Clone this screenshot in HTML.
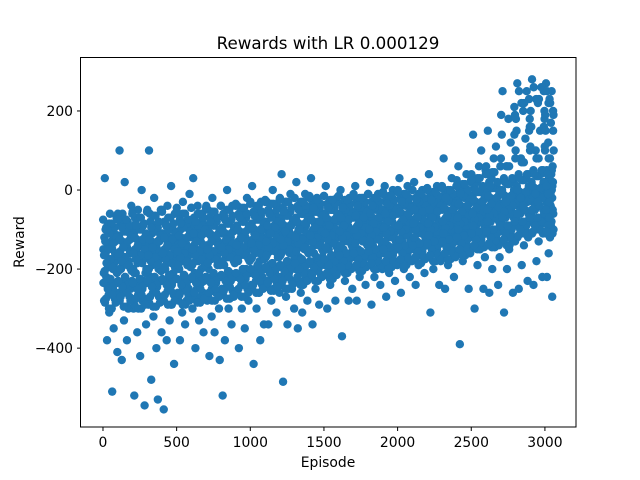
<!DOCTYPE html>
<html><head><meta charset="utf-8"><style>
html,body{margin:0;padding:0;background:#fff;}
svg{display:block;font-family:"DejaVu Sans","Liberation Sans",sans-serif;}
</style></head><body>
<svg id="chart" width="640" height="480" viewBox="0 0 640 480">
<rect width="640" height="480" fill="#fff"/>
<text x="328" y="49" font-size="16.7" text-anchor="middle" fill="#000">Rewards with LR 0.000129</text>
<g id="points"></g>
<rect x="80.5" y="57.5" width="495.5" height="369.5" fill="none" stroke="#000" stroke-width="1"/>
<g id="xticks"></g>
<g id="yticks"></g>
<text x="328" y="467" font-size="13.9" text-anchor="middle">Episode</text>
<text transform="translate(24,242) rotate(-90)" font-size="13.9" text-anchor="middle">Reward</text>
</svg>
<script>
const binStarts = [0,100,200,300,400,500,600,700,800,900,1000,1100,1200,1300,1400,1500,1600,1700,1800,1900,2000,2100,2200,2300,2400,2500,2600,2700,2800,2900,3000];
const binWidths = [100,100,100,100,100,100,100,100,100,100,100,100,100,100,100,100,100,100,100,100,100,100,100,100,100,100,100,100,100,100,60];
const rewards = [
[-150,-280,30,-100,-220,-380,-90,-180,-310,-60,-240,-130,-510,-200,-350,-110,-260,-170,-70,-410],
[-120,-260,100,-90,-200,-430,-60,-170,-330,20,-230,-140,-380,-80,-300,-190,-110,-250,-40,-160],
[-100,-300,-520,-70,-210,-150,-360,-50,-250,-130,-420,-180,0,-280,-90,-230,-545,-160,-340,-120],
[-140,-290,100,-60,-220,-480,-110,-180,-320,-20,-250,-90,-400,-160,-530,-200,-130,-270,-50,-360],
[-110,-270,-555,-80,-200,-150,-380,-40,-240,-120,-330,-170,10,-290,-100,-210,-440,-60,-180,-130],
[-130,-260,-60,-200,-380,-100,-170,-310,-30,-230,-150,-340,-80,-280,-190,-120,-250,-10,-160,-90],
[-120,-300,30,-70,-210,-400,-150,-250,-40,-180,-330,-100,-270,-200,-60,-140,-360,-230,-90,-170],
[-140,-280,-50,-200,-420,-110,-170,-320,-20,-240,-90,-360,-160,-260,-70,-190,-130,-300,-430,-100],
[-110,-250,-520,-60,-190,-380,-140,-230,0,-170,-300,-80,-210,-120,-340,-40,-160,-270,-100,-220],
[-100,-260,-40,-180,-400,-130,-220,-60,-300,-150,-80,-240,-350,-120,-200,-20,-170,-280,-90,-140],
[-90,-240,10,-150,-440,-110,-200,-50,-300,-130,-70,-260,-180,-380,-30,-160,-220,-100,-340,-120],
[-80,-230,-30,-160,-340,-110,-190,-60,-280,-130,0,-250,-90,-200,-140,-310,-40,-170,-100,-260],
[-70,-220,40,-150,-485,-100,-190,-30,-270,-120,-340,-60,-210,-160,-10,-90,-250,-130,-180,-300],
[-80,-200,20,-140,-350,-100,-170,-40,-260,-120,-310,-60,-230,-150,-10,-90,-190,-280,-110,-50],
[-70,-210,30,-130,-340,-100,-160,-40,-250,-110,-20,-190,-80,-290,-140,-60,-220,-120,-170,-90],
[-60,-190,10,-120,-300,-90,-150,-30,-240,-100,-170,-50,-210,-130,-80,-280,-110,-20,-160,-70],
[-80,-180,0,-120,-370,-90,-150,-40,-230,-100,-60,-200,-130,-280,-20,-160,-110,-70,-250,-140],
[-70,-170,10,-120,-280,-90,-150,-40,-220,-100,-60,-190,-130,-20,-160,-110,-240,-80,-50,-140],
[-60,-170,20,-110,-290,-80,-140,-30,-220,-100,-50,-180,-120,-10,-160,-70,-240,-90,-130,-200],
[-70,-160,10,-110,-270,-80,-140,-30,-210,-100,-50,-180,-120,0,-150,-60,-230,-90,-130,-190],
[-60,-150,30,-100,-260,-80,-130,-20,-200,-90,-40,-170,-110,10,-140,-70,-220,-50,-120,-180],
[-50,-150,20,-100,-240,-70,-130,-20,-190,-90,-40,-160,-110,0,-140,-60,-210,-80,-120,-30],
[-60,-140,40,-100,-310,-70,-120,-20,-200,-90,-40,-160,-110,10,-130,-50,-240,-80,-180,-30],
[-50,-130,80,-90,-250,-70,-110,-10,-190,-80,-30,-150,-100,30,-120,-50,-220,-60,-170,-20],
[-40,-120,60,-80,-390,-60,-100,0,-180,-70,-20,-150,-90,40,-110,-50,-250,-30,-160,20],
[-30,-120,140,-70,-300,-50,-90,20,-190,-60,60,-150,-80,100,-110,-40,-250,-10,-170,50],
[-20,-110,150,-60,-260,-40,-80,30,-200,-50,80,-140,-70,110,-100,-30,-240,0,-170,60],
[-10,-100,250,-50,-310,-30,-70,60,-200,-40,180,-150,-60,120,-90,-20,-260,20,210,-130],
[0,-90,270,-40,-250,-20,-60,80,-190,-30,200,-140,-50,130,-80,-10,-230,40,230,160],
[10,-80,280,-30,-240,-10,-50,100,-180,-20,220,-130,-40,150,-70,0,-220,50,250,180],
[20,-70,270,-30,-220,-10,-50,120,-160,-20,230,-120,-40,170,-80,0,-270,60,200,-100]
];
const coreRewards = [
[-75,-210,-120,-285,-160,-95,-240,-135,-195,-265,-85,-175,-225,-110,-300,-150,-250,-100,-185,-275,-130,-205,-165,-235],
[-60,-205,-115,-280,-155,-90,-235,-130,-190,-260,-75,-170,-220,-105,-295,-145,-245,-95,-180,-270,-125,-200,-160,-230],
[-55,-200,-110,-290,-150,-85,-240,-125,-185,-265,-70,-165,-225,-100,-300,-140,-250,-90,-175,-275,-120,-210,-160,-235],
[-50,-205,-115,-285,-155,-80,-235,-130,-190,-260,-65,-170,-220,-105,-295,-145,-245,-95,-180,-270,-125,-200,-165,-230],
[-55,-200,-110,-280,-150,-85,-230,-125,-185,-255,-70,-165,-215,-100,-290,-140,-240,-90,-175,-265,-120,-195,-160,-225],
[-45,-195,-105,-280,-145,-75,-230,-120,-180,-255,-60,-160,-215,-95,-290,-135,-240,-85,-170,-265,-115,-190,-155,-225],
[-45,-190,-100,-275,-140,-70,-225,-115,-175,-250,-60,-155,-210,-90,-285,-130,-235,-80,-165,-260,-110,-185,-150,-220],
[-40,-190,-100,-270,-140,-70,-225,-115,-175,-250,-55,-155,-210,-90,-280,-130,-235,-80,-165,-260,-110,-185,-150,-220],
[-40,-185,-95,-265,-135,-65,-220,-110,-170,-245,-50,-150,-205,-85,-275,-125,-230,-75,-160,-255,-105,-180,-145,-215],
[-35,-180,-90,-260,-130,-60,-215,-105,-165,-240,-45,-145,-200,-80,-270,-120,-225,-70,-155,-250,-100,-175,-140,-210],
[-30,-175,-85,-250,-125,-55,-205,-100,-160,-230,-40,-140,-190,-75,-260,-115,-215,-65,-150,-240,-95,-170,-135,-200],
[-25,-170,-80,-245,-120,-50,-200,-95,-155,-225,-35,-135,-185,-70,-255,-110,-210,-60,-145,-235,-90,-165,-130,-195],
[-20,-165,-75,-240,-115,-45,-195,-90,-150,-220,-30,-130,-180,-65,-250,-105,-205,-55,-140,-230,-85,-160,-125,-190],
[-20,-160,-70,-230,-110,-40,-190,-85,-145,-210,-30,-125,-175,-60,-240,-100,-200,-50,-135,-220,-80,-155,-120,-185],
[-15,-155,-65,-220,-105,-35,-185,-80,-140,-205,-25,-120,-170,-55,-230,-95,-195,-45,-130,-215,-75,-150,-115,-180],
[-15,-150,-60,-215,-100,-35,-180,-75,-135,-200,-25,-115,-165,-50,-225,-90,-190,-45,-125,-210,-70,-145,-110,-175],
[-15,-145,-60,-200,-100,-35,-170,-75,-130,-190,-25,-115,-160,-50,-210,-90,-180,-45,-120,-195,-70,-140,-105,-165],
[-10,-140,-55,-195,-95,-30,-165,-70,-125,-185,-20,-110,-155,-45,-205,-85,-175,-40,-115,-190,-65,-135,-100,-160],
[-10,-140,-50,-190,-95,-30,-160,-70,-125,-180,-20,-105,-150,-45,-200,-85,-170,-40,-115,-185,-60,-130,-100,-155],
[-5,-135,-50,-185,-90,-25,-155,-65,-120,-175,-15,-105,-145,-40,-195,-80,-165,-35,-110,-180,-60,-130,-95,-150],
[0,-130,-45,-180,-85,-20,-150,-60,-115,-170,-10,-100,-140,-35,-190,-75,-160,-30,-105,-175,-55,-125,-90,-145],
[0,-125,-40,-175,-80,-20,-145,-55,-110,-165,-10,-95,-135,-30,-185,-70,-155,-25,-100,-170,-50,-120,-85,-140],
[5,-125,-40,-170,-80,-15,-140,-55,-105,-160,-5,-95,-130,-30,-180,-70,-150,-25,-100,-165,-50,-115,-85,-135],
[10,-120,-35,-165,-75,-10,-135,-50,-100,-155,0,-90,-125,-25,-175,-65,-145,-20,-95,-160,-45,-110,-80,-130],
[25,-110,-25,-155,-65,0,-125,-40,-90,-145,15,-80,-115,-15,-165,-55,-135,-10,-85,-150,-35,-100,-70,-120],
[40,-100,-15,-145,-55,10,-115,-30,-80,-135,30,-70,-105,-5,-150,-45,-125,0,-75,-140,-25,-90,-60,-110],
[60,-90,-5,-140,-45,20,-110,-20,-70,-130,45,-60,-100,5,-145,-35,-120,10,-65,-135,-15,-80,-50,-105],
[80,-80,0,-130,-40,30,-100,-15,-60,-120,60,-50,-90,15,-140,-30,-110,20,-55,-125,-10,-70,140,190],
[100,-70,10,-120,-30,40,-90,-5,-50,-110,70,-40,-80,25,220,-20,-100,30,250,-115,0,-60,150,180],
[110,-60,20,-110,-20,50,-80,5,-40,-100,80,-30,-70,35,230,-10,-90,40,260,-105,10,-50,160,200],
[100,-60,20,-110,-20,50,-80,5,-40,-100,80,-30,-70,35,220,-10,-90,40,250,-105,10,-50,150,190]
];
const xTickValues = [0,500,1000,1500,2000,2500,3000];
const xTickLabels = ["0","500","1000","1500","2000","2500","3000"];
const yTickValues = [200,0,-200,-400];
const yTickLabels = ["200","0","\u2212200","\u2212400"];

const NS = "http://www.w3.org/2000/svg";
const X0 = 80, X1 = 576, Y0 = 57.6, Y1 = 427.2;
const xMin = -156, xMax = 3211, yMin = -600, yMax = 335;
function xs(v){ return X0 + (v - xMin) / (xMax - xMin) * (X1 - X0); }
function ys(v){ return Y1 - (v - yMin) / (yMax - yMin) * (Y1 - Y0); }

const pg = document.getElementById("points");
function drawSet(sets, offset, reverse){
  sets.forEach(function(list, i){
    const n = list.length;
    list.forEach(function(r, j){
      const k = reverse ? (n - 1 - j) : j;
      const ep = binStarts[i] + (k + offset) * binWidths[i] / n;
      const c = document.createElementNS(NS, "circle");
      c.setAttribute("cx", xs(ep).toFixed(2));
      c.setAttribute("cy", ys(r).toFixed(2));
      c.setAttribute("r", "4.2");
      c.setAttribute("fill", "#1f77b4");
      
      
      pg.appendChild(c);
    });
  });
}
drawSet(rewards, 0.5, false);
drawSet(coreRewards, 0.25, false);
drawSet(coreRewards, 0.75, true);

const xg = document.getElementById("xticks");
xTickValues.forEach(function(v, i){
  const x = xs(v);
  const l = document.createElementNS(NS, "line");
  l.setAttribute("x1", x); l.setAttribute("x2", x);
  l.setAttribute("y1", 427.5); l.setAttribute("y2", 431);
  l.setAttribute("stroke", "#000");
  
  
  xg.appendChild(l);
  const t = document.createElementNS(NS, "text");
  t.setAttribute("x", x); t.setAttribute("y", 447);
  t.setAttribute("font-size", "13.9");
  t.setAttribute("text-anchor", "middle");
  t.textContent = xTickLabels[i];
  
  
  xg.appendChild(t);
});

const yg = document.getElementById("yticks");
yTickValues.forEach(function(v, i){
  const y = ys(v);
  const l = document.createElementNS(NS, "line");
  l.setAttribute("x1", 77); l.setAttribute("x2", 80.5);
  l.setAttribute("y1", y); l.setAttribute("y2", y);
  l.setAttribute("stroke", "#000");
  
  
  yg.appendChild(l);
  const t = document.createElementNS(NS, "text");
  t.setAttribute("x", 73); t.setAttribute("y", y + 5);
  t.setAttribute("font-size", "13.9");
  t.setAttribute("text-anchor", "end");
  t.textContent = yTickLabels[i];
  
  
  yg.appendChild(t);
});
</script>
</body></html>
